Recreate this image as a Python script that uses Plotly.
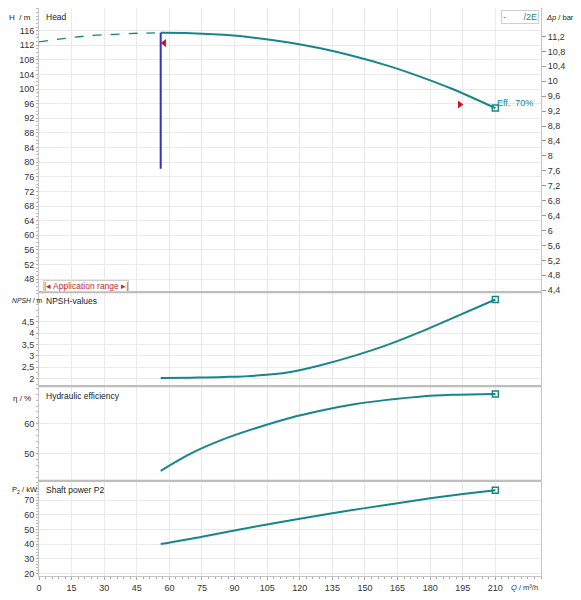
import plotly.graph_objects as go

# flow rate Q in m3/h
q_dash = [0, 12, 23, 35, 46, 56]
head_dash = [112.9, 113.9, 114.6, 115.0, 115.3, 115.4]

q_head = [56, 70, 85, 100, 115, 130, 145, 160, 175, 190, 210]
head = [115.4, 115.3, 114.85, 114.0, 112.75, 111.1, 109.0, 106.5, 103.5, 100.1, 94.8]

q_npsh = [56, 70, 85, 100, 115, 130, 145, 160, 175, 190, 210]
npsh = [2.02, 2.04, 2.07, 2.13, 2.28, 2.6, 3.0, 3.47, 4.03, 4.65, 5.48]

q_eff = [56, 70, 85, 100, 115, 130, 145, 160, 175, 190, 210]
eff = [44.1, 50.0, 54.8, 58.6, 61.9, 64.5, 66.6, 68.1, 69.2, 69.8, 70.1]

q_pow = [56, 75, 90, 105, 120, 135, 150, 165, 180, 195, 210]
power = [40.0, 45.0, 49.3, 53.4, 57.3, 61.0, 64.5, 67.9, 71.2, 74.1, 76.7]

# min flow line and operating marks
q_min = [56, 56]
head_min = [115.4, 78.2]
q_marks = [57.6, 193.6]
head_marks = [112.6, 95.8]

x_ticks = list(range(0, 211, 15))
head_ticks = list(range(48, 117, 4))
bar_ticks = [4.4, 4.8, 5.2, 5.6, 6, 6.4, 6.8, 7.2, 7.6, 8, 8.4, 8.8, 9.2, 9.6, 10, 10.4, 10.8, 11.2]
npsh_ticks = [2, 2.5, 3, 3.5, 4, 4.5]
eff_ticks = [50, 60]
pow_ticks = [20, 30, 40, 50, 60, 70]

TEAL = "#17868a"
FONT = "Liberation Sans"
BAR_PER_M = 0.0979
head_range = [44.4, 122.2]
NB = "\u00a0"

fig = go.Figure()

fig.add_trace(go.Scatter(x=q_dash, y=head_dash, mode="lines", line=dict(color=TEAL, width=1.3, dash="dash", shape="spline"),
                         xaxis="x", yaxis="y"))
fig.add_trace(go.Scatter(x=q_head, y=head, mode="lines", line=dict(color=TEAL, width=2, shape="spline"),
                         xaxis="x", yaxis="y"))
fig.add_trace(go.Scatter(x=q_min, y=head_min, mode="lines", line=dict(color="#3434c0", width=2),
                         xaxis="x", yaxis="y"))
fig.add_trace(go.Scatter(x=q_marks, y=head_marks, mode="markers",
                         marker=dict(symbol=["triangle-left", "triangle-right"], color="#d0101a", size=7),
                         xaxis="x", yaxis="y"))
fig.add_trace(go.Scatter(x=[q_head[-1]], y=[head[-1]], mode="markers",
                         marker=dict(symbol="square-open", color=TEAL, size=6, line=dict(width=1.5)),
                         xaxis="x", yaxis="y"))
# pressure axis carrier
fig.add_trace(go.Scatter(x=[q_head[-1]], y=[head[-1] * BAR_PER_M], mode="markers", marker=dict(opacity=0),
                         hoverinfo="skip", xaxis="x", yaxis="y2"))

for qs, vals, yax, xax in [(q_npsh, npsh, "y3", "x2"), (q_eff, eff, "y4", "x3"), (q_pow, power, "y5", "x4")]:
    fig.add_trace(go.Scatter(x=qs, y=vals, mode="lines", line=dict(color=TEAL, width=2, shape="spline"),
                             xaxis=xax, yaxis=yax))
    fig.add_trace(go.Scatter(x=[qs[-1]], y=[vals[-1]], mode="markers",
                             marker=dict(symbol="square-open", color=TEAL, size=6, line=dict(width=1.5)),
                             xaxis=xax, yaxis=yax))

tick_font = dict(family=FONT, size=9, color="#333")
frame = dict(showgrid=True, gridcolor="#e9e9e9", gridwidth=1, zeroline=False,
             showline=True, linecolor="#c4c4c4", linewidth=1, mirror=True)

x_base = dict(range=[0, 231], tickvals=x_ticks, **frame)
y_minor_ticks = dict(ticks="outside", ticklen=2, tickcolor="#bbb")

domains = {"y": [0.4996, 1], "y3": [0.334, 0.4996], "y4": [0.1675, 0.334], "y5": [0, 0.1675]}

# page body has an 8px margin, so the figure is slightly smaller and offset
fig.update_layout(
    width=573, height=592,
    margin=dict(l=31, r=40, t=0, b=24),
    paper_bgcolor="white", plot_bgcolor="white",
    showlegend=False,
    separators=", ",
    font=dict(family=FONT, size=9, color="#333"),
    xaxis=dict(anchor="y", showticklabels=False, ticks="", **x_base),
    xaxis2=dict(anchor="y3", matches="x", showticklabels=False, ticks="", **x_base),
    xaxis3=dict(anchor="y4", matches="x", showticklabels=False, ticks="", **x_base),
    xaxis4=dict(anchor="y5", matches="x", ticks="outside", ticklen=3, tickcolor="#aaa", tickfont=tick_font,
                minor=dict(dtick=3, ticks="outside", ticklen=2, tickcolor="#aaa"), **x_base),
    yaxis=dict(domain=domains["y"], anchor="x", range=head_range, tickvals=head_ticks, tickfont=tick_font,
               ticks="outside", ticklen=2, tickcolor="#aaa", minor=dict(dtick=1, **y_minor_ticks), **frame),
    yaxis2=dict(overlaying="y", anchor="x", side="right", range=[v * BAR_PER_M for v in head_range],
                tickvals=bar_ticks, tickfont=tick_font, ticks="outside", ticklen=4, tickcolor="#999",
                showgrid=False, zeroline=False, showline=False),
    yaxis3=dict(domain=domains["y3"], anchor="x2", range=[1.66, 5.8], tickvals=npsh_ticks, tickfont=tick_font,
                ticks="outside", ticklen=2, tickcolor="#aaa", minor=dict(dtick=0.25, **y_minor_ticks), **frame),
    yaxis4=dict(domain=domains["y4"], anchor="x3", range=[40.7, 72.7], tickvals=eff_ticks, tickfont=tick_font,
                ticks="outside", ticklen=2, tickcolor="#aaa", minor=dict(dtick=2, **y_minor_ticks), **frame),
    yaxis5=dict(domain=domains["y5"], anchor="x4", range=[18.2, 83.1], tickvals=pow_ticks, tickfont=tick_font,
                ticks="outside", ticklen=2, tickcolor="#aaa", minor=dict(dtick=2, **y_minor_ticks), **frame),
)

# separators between panels
for yb in [domains["y3"][1], domains["y4"][1], domains["y5"][1]]:
    fig.add_shape(type="line", xref="paper", yref="paper", x0=0, x1=1, y0=yb, y1=yb,
                  line=dict(color="#bdbdbd", width=2))

# right edge of the page frame
fig.add_shape(type="line", xref="paper", yref="paper", x0=1.073, x1=1.073, y0=-0.05, y1=1.02,
              line=dict(color="#e4e4e4", width=3))

title_font = dict(family=FONT, size=8.5, color="#222")
panel_titles = [("Head", "y"), ("NPSH-values", "y3"), ("Hydraulic efficiency", "y4"), ("Shaft power P2", "y5")]
for text, ax in panel_titles:
    top = domains[ax][1]
    fig.add_annotation(text=text, xref="paper", yref="paper", x=0.01, y=top - 0.004,
                       xanchor="left", yanchor="top", showarrow=False, font=title_font)

axis_labels = [("H" + NB * 2 + "/ m", 0.984, 8), ("η / %", 0.313, 8)]
for text, yp, fs in axis_labels:
    fig.add_annotation(text=text, xref="paper", yref="paper", x=-0.012, y=yp, xanchor="right", yanchor="middle",
                       showarrow=False, font=dict(family=FONT, size=fs, color="#222"))
# the two wider labels start at the left edge of the figure
for text, yp, fs in [("<i>NPSH</i>" + NB + "/ m", 0.4855, 6.8), ("P<sub>2</sub> / kW", 0.1515, 7.5)]:
    fig.add_annotation(text=text, xref="paper", yref="paper", x=-0.058, y=yp, xanchor="left", yanchor="middle",
                       showarrow=False, font=dict(family=FONT, size=fs, color="#222"))

fig.add_annotation(text="<i>Δp</i> / bar", xref="paper", yref="paper", x=1.006, y=0.984, xanchor="left",
                   yanchor="middle", showarrow=False, font=dict(family=FONT, size=7.5, color="#222"))
fig.add_annotation(text="<i>Q</i> / m³/h", xref="paper", yref="paper", x=0.999, y=-0.008, xanchor="right",
                   yanchor="top", showarrow=False, font=dict(family=FONT, size=7.5, color="#333"))

fig.add_annotation(text="Eff." + NB * 2 + "70%", x=q_head[-1], y=head[-1], xref="x", yref="y", xanchor="left",
                   yanchor="bottom", yshift=-2, showarrow=False, font=dict(family=FONT, size=9, color=TEAL))
fig.add_annotation(text="-" + NB * 7 + "/2E", xref="paper", yref="paper", x=0.996, y=0.997, xanchor="right",
                   yanchor="top", showarrow=False, font=dict(family=FONT, size=9, color=TEAL),
                   bordercolor="#cfcfcf", borderwidth=1, borderpad=1, bgcolor="white")
fig.add_annotation(text="|◂ Application range ▸|", xref="paper", yref="paper", x=0.008, y=domains["y"][0] + 0.001,
                   xanchor="left", yanchor="bottom", showarrow=False,
                   font=dict(family=FONT, size=8.5, color="#c0282d"), bordercolor="#cfcfcf", borderwidth=1,
                   borderpad=0, bgcolor="white")

fig.write_html("out.html")
